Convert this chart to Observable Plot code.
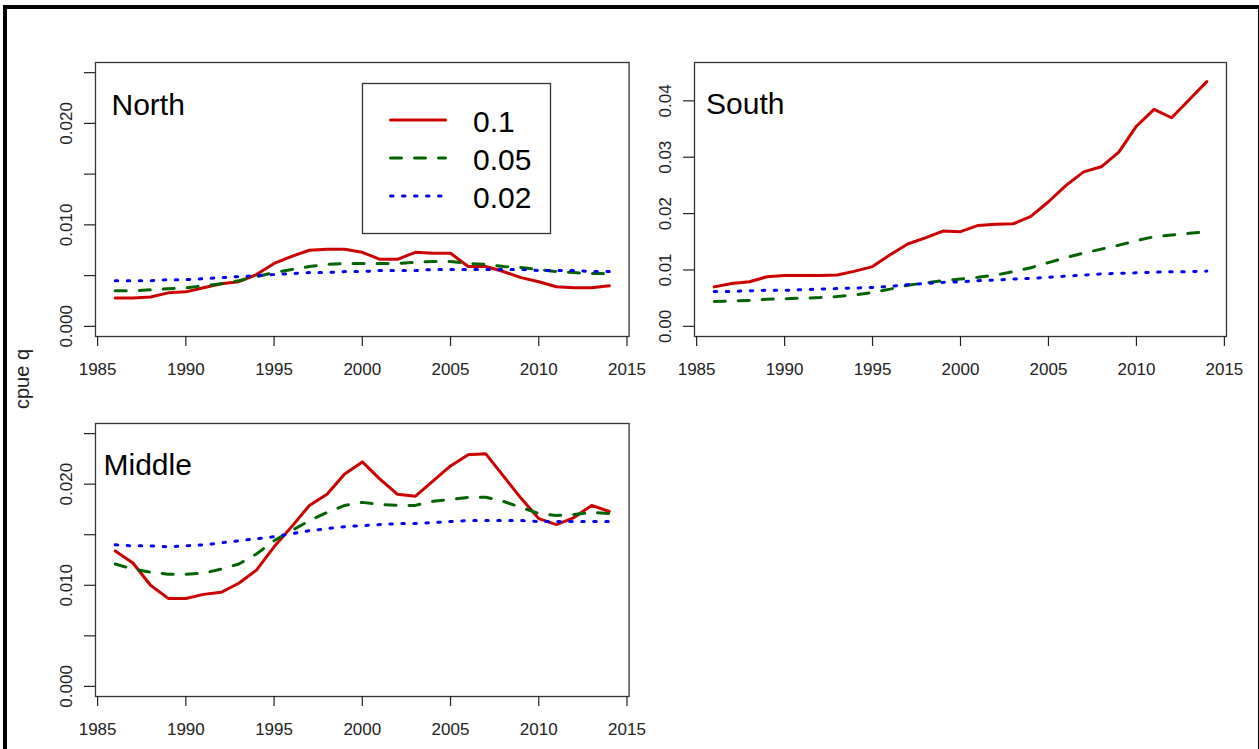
<!DOCTYPE html>
<html>
<head>
<meta charset="utf-8">
<script src="https://cdn.jsdelivr.net/npm/d3@7"></script>
<script src="https://cdn.jsdelivr.net/npm/@observablehq/plot@0.6"></script>
<style>
  html, body { margin: 0; padding: 0; background: #fff; }
  #fig { position: relative; width: 1259px; height: 749px; overflow: hidden; background: #fff;
         font-family: "Liberation Sans", Arial, sans-serif; }
  #border { position: absolute; left: 3px; top: 5px; width: 1256px; height: 800px; box-sizing: border-box;
            border-left: 4px solid #000; border-top: 4px solid #000; border-right: 1px solid #000; }
  .panel { position: absolute; }
  .panel svg { overflow: visible; }
  #overlay { position: absolute; left: 0; top: 0; }
</style>
</head>
<body>
<div id="fig">
  <div id="border"></div>
  <div class="panel" id="north" style="left:0px;top:0px"></div>
  <div class="panel" id="south" style="left:640px;top:0px"></div>
  <div class="panel" id="middle" style="left:0px;top:380px"></div>
</div>
<script>
// Years of the catchability series
const years = [1986, 1987, 1988, 1989, 1990, 1991, 1992, 1993, 1994, 1995,
               1996, 1997, 1998, 1999, 2000, 2001, 2002, 2003, 2004, 2005,
               2006, 2007, 2008, 2009, 2010, 2011, 2012, 2013, 2014];

// Smoothing settings shown in the legend
const series = ["0.1", "0.05", "0.02"];
const seriesColors = ["#CD0000", "#006400", "#0000F0"];
const seriesDash = [null, "11,13", "2.5,9.5"];

// North region
const north01 = [0.0028, 0.0028, 0.0029, 0.0033, 0.0034, 0.0038, 0.0042, 0.0044, 0.0051, 0.0062,
                 0.0069, 0.0075, 0.0076, 0.0076, 0.0073, 0.0066, 0.0066, 0.0073, 0.0072, 0.0072,
                 0.0059, 0.0059, 0.0054, 0.0048, 0.0044, 0.0039, 0.0038, 0.0038, 0.0040];
const north005 = [0.0035, 0.0035, 0.0036, 0.0037, 0.0038, 0.0040, 0.0042, 0.0045, 0.0049, 0.0053,
                  0.0056, 0.0059, 0.0061, 0.0062, 0.0062, 0.0062, 0.0062, 0.0063, 0.0064, 0.0064,
                  0.0062, 0.0061, 0.0059, 0.0058, 0.0056, 0.0054, 0.0053, 0.0052, 0.0052];
const north002 = [0.0045, 0.0045, 0.0045, 0.0046, 0.0046, 0.0047, 0.0048, 0.0049, 0.0050, 0.0051,
                  0.0052, 0.0053, 0.0053, 0.0054, 0.0054, 0.0055, 0.0055, 0.0055, 0.0056, 0.0056,
                  0.0056, 0.0056, 0.0056, 0.0056, 0.0055, 0.0055, 0.0055, 0.0054, 0.0054];

// South region
const south01 = [0.0070, 0.0076, 0.0079, 0.0088, 0.0090, 0.0090, 0.0090, 0.0091, 0.0098, 0.0106,
                 0.0127, 0.0146, 0.0157, 0.0169, 0.0168, 0.0179, 0.0181, 0.0182, 0.0195, 0.0221,
                 0.0250, 0.0274, 0.0283, 0.0309, 0.0355, 0.0385, 0.0370, 0.0402, 0.0434];
const south005 = [0.0044, 0.0045, 0.0046, 0.0048, 0.0049, 0.0050, 0.0051, 0.0053, 0.0056, 0.0060,
                  0.0066, 0.0073, 0.0077, 0.0081, 0.0084, 0.0087, 0.0091, 0.0097, 0.0104, 0.0113,
                  0.0122, 0.0130, 0.0137, 0.0144, 0.0152, 0.0159, 0.0162, 0.0165, 0.0168];
const south002 = [0.0062, 0.0062, 0.0063, 0.0064, 0.0064, 0.0065, 0.0066, 0.0067, 0.0068, 0.0069,
                  0.0071, 0.0074, 0.0076, 0.0078, 0.0079, 0.0081, 0.0082, 0.0084, 0.0085, 0.0087,
                  0.0089, 0.0091, 0.0093, 0.0094, 0.0095, 0.0096, 0.0097, 0.0097, 0.0098];

// Middle region
const middle01 = [0.0134, 0.0122, 0.0100, 0.0087, 0.0087, 0.0091, 0.0093, 0.0102, 0.0115, 0.0138,
                  0.0158, 0.0179, 0.0190, 0.0210, 0.0222, 0.0205, 0.0190, 0.0188, 0.0203, 0.0218,
                  0.0229, 0.0230, 0.0208, 0.0186, 0.0166, 0.0160, 0.0167, 0.0179, 0.0173];
const middle005 = [0.0121, 0.0116, 0.0113, 0.0111, 0.0111, 0.0112, 0.0116, 0.0121, 0.0131, 0.0144,
                   0.0154, 0.0164, 0.0172, 0.0179, 0.0182, 0.0180, 0.0179, 0.0179, 0.0183, 0.0185,
                   0.0187, 0.0187, 0.0183, 0.0177, 0.0171, 0.0169, 0.0170, 0.0172, 0.0171];
const middle002 = [0.0140, 0.0139, 0.0139, 0.0138, 0.0139, 0.0140, 0.0142, 0.0144, 0.0146, 0.0148,
                   0.0151, 0.0154, 0.0156, 0.0158, 0.0159, 0.0160, 0.0161, 0.0161, 0.0162, 0.0163,
                   0.0164, 0.0164, 0.0164, 0.0164, 0.0163, 0.0163, 0.0163, 0.0163, 0.0163];

// Axis ticks
const xTicks = [1985, 1990, 1995, 2000, 2005, 2010, 2015];
const yTicksNarrow = [0, 0.005, 0.010, 0.015, 0.020, 0.025];
const yTicksSouth = [0, 0.01, 0.02, 0.03, 0.04];

const font = "'Liberation Sans', Arial, Helvetica, sans-serif";

function rows(values) {
  return years.map((year, j) => ({year, value: values[j]}));
}

function panel({values, yDomain, yTicks, yFormat, label, labelDx, labelDy, width, height, margins}) {
  return Plot.plot({
    width, height,
    marginLeft: margins[0], marginTop: margins[1], marginRight: margins[2], marginBottom: margins[3],
    style: {fontFamily: font, fontSize: "17px", color: "#222", background: "transparent", overflow: "visible"},
    x: {domain: [1984.88, 2015.12]},
    y: {domain: yDomain},
    marks: [
      Plot.frame({stroke: "#333", strokeWidth: 1.3}),
      Plot.axisX({ticks: xTicks, tickSize: 10, tickPadding: 16, tickFormat: d => String(d), label: null, strokeWidth: 1.2}),
      Plot.axisY({ticks: yTicks, tickSize: 11, tickPadding: 13, tickRotate: -90, tickFormat: yFormat, label: null, strokeWidth: 1.2}),
      ...series.map((s, i) => Plot.line(rows(values[i]), {
        x: "year", y: "value",
        stroke: seriesColors[i], strokeWidth: 3,
        strokeDasharray: seriesDash[i] ?? undefined,
        strokeLinecap: "round", strokeLinejoin: "round"
      })),
      Plot.text([label], {
        frameAnchor: "top-left", textAnchor: "start", lineAnchor: "top",
        dx: labelDx, dy: labelDy, fontSize: 30, fill: "#000", fontFamily: font
      })
    ]
  });
}

const fmtThousand = d => Math.abs(d * 100 - Math.round(d * 100)) < 1e-9 ? d.toFixed(3) : "";
const fmtHundred = d => d.toFixed(2);

document.getElementById("north").append(panel({
  values: [north01, north005, north002],
  yDomain: [-0.001, 0.026], yTicks: yTicksNarrow, yFormat: fmtThousand,
  label: "North", labelDx: 16, labelDy: 31,
  width: 640, height: 380, margins: [95, 62, 11.4, 44]
}));

document.getElementById("south").append(panel({
  values: [south01, south005, south002],
  yDomain: [-0.0018, 0.0468], yTicks: yTicksSouth, yFormat: fmtHundred,
  label: "South", labelDx: 11.5, labelDy: 30,
  width: 619, height: 380, margins: [54, 62, 33, 44]
}));

document.getElementById("middle").append(panel({
  values: [middle01, middle005, middle002],
  yDomain: [-0.001, 0.026], yTicks: yTicksNarrow, yFormat: fmtThousand,
  label: "Middle", labelDx: 8, labelDy: 30.5,
  width: 640, height: 369, margins: [95, 43, 11.4, 53]
}));

// Shared y-axis title and the legend box in the North panel
const overlay = d3.select("#fig").append("svg")
  .attr("id", "overlay").attr("width", 1259).attr("height", 749)
  .style("font-family", font);

overlay.append("text")
  .attr("transform", "translate(29,379) rotate(-90)")
  .attr("text-anchor", "middle")
  .attr("font-size", 20)
  .attr("fill", "#222")
  .text("cpue q");

const legend = overlay.append("g");
legend.append("rect")
  .attr("x", 362.5).attr("y", 83.5).attr("width", 188).attr("height", 150)
  .attr("fill", "#fff").attr("stroke", "#333").attr("stroke-width", 1.3);
series.forEach((s, i) => {
  const y = 120 + i * 38;
  legend.append("line")
    .attr("x1", 390.5).attr("x2", 445.5).attr("y1", y).attr("y2", y)
    .attr("stroke", seriesColors[i]).attr("stroke-width", 3)
    .attr("stroke-linecap", "round")
    .attr("stroke-dasharray", seriesDash[i]);
  legend.append("text")
    .attr("x", 473).attr("y", y + 11.5)
    .attr("font-size", 30).attr("fill", "#000")
    .text(s);
});
</script>
</body>
</html>
